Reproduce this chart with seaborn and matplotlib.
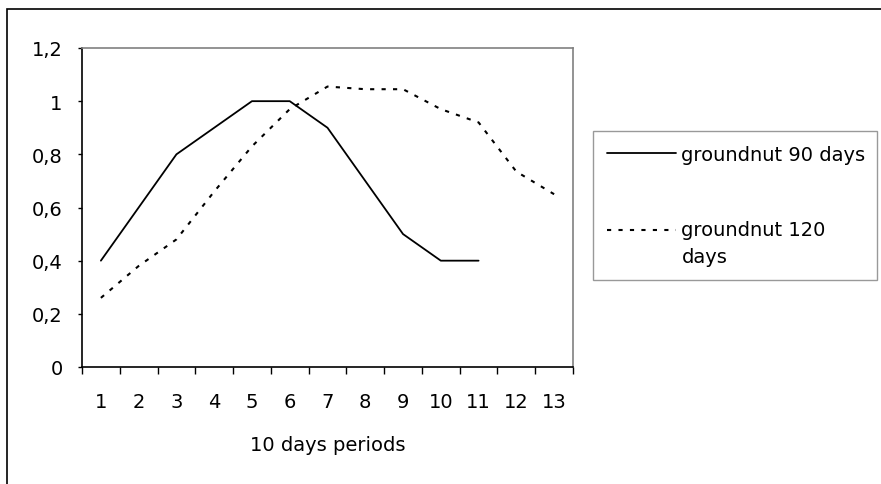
import numpy as np
import pandas as pd
import seaborn as sns
import matplotlib.pyplot as plt
from matplotlib.patches import Rectangle
from matplotlib.ticker import FixedLocator, FixedFormatter

# Values
periods_90 = [1, 2, 3, 4, 5, 6, 7, 8, 9, 10, 11]
values_90 = [0.4, 0.6, 0.8, 0.9, 1.0, 1.0, 0.9, 0.7, 0.5, 0.4, 0.4]
periods_120 = [1, 2, 3, 4, 5, 6, 7, 8, 9, 10, 11, 12, 13]
values_120 = [0.26, 0.38, 0.48, 0.66, 0.83, 0.97, 1.055, 1.045, 1.045, 0.97, 0.92, 0.735, 0.65]
y_ticks = [0, 0.2, 0.4, 0.6, 0.8, 1.0, 1.2]
y_tick_labels = ["0", "0,2", "0,4", "0,6", "0,8", "1", "1,2"]
x_tick_labels = [str(i) for i in range(1, 14)]

df_90 = pd.DataFrame({"period": periods_90, "value": values_90})
df_120 = pd.DataFrame({"period": periods_120, "value": values_120})

sns.set_style("white")
plt.rcParams["font.family"] = ["DejaVu Sans"]
plt.rcParams["font.size"] = 14
plt.rcParams["text.color"] = "black"
plt.rcParams["axes.labelcolor"] = "black"
plt.rcParams["xtick.color"] = "black"
plt.rcParams["ytick.color"] = "black"

fig = plt.figure(figsize=(8.81, 4.85), dpi=100)
ax = fig.add_axes([82 / 881, 1 - 368 / 485, (573 - 82) / 881, (368 - 49) / 485])

# Solid line for the 90 days variety
sns.lineplot(data=df_90, x="period", y="value", ax=ax, color="black",
             linewidth=1.3, label="groundnut 90 days")

# Dotted line for the 120 days variety
sns.lineplot(data=df_120, x="period", y="value", ax=ax, color="black",
             linewidth=1.5, label="groundnut 120\ndays")
ax.lines[1].set_linestyle((0, (2, 3.5)))

ax.set_xlim(0.5, 13.5)
ax.set_ylim(0, 1.2)

# Category ticks sit between periods, labels in the middle
ax.xaxis.set_major_locator(FixedLocator(np.arange(0.5, 14, 1)))
ax.xaxis.set_major_formatter(FixedFormatter([""] * 14))
ax.xaxis.set_minor_locator(FixedLocator(np.arange(1, 14)))
ax.xaxis.set_minor_formatter(FixedFormatter(x_tick_labels))
ax.tick_params(axis="x", which="major", direction="out", length=5, width=1, color="black", bottom=True)
ax.tick_params(axis="x", which="minor", length=0, pad=18, labelsize=14, labelcolor="black")

ax.set_yticks(y_ticks)
ax.set_yticklabels(y_tick_labels)
ax.tick_params(axis="y", direction="out", length=3, width=1, color="black", left=True,
               labelsize=14, pad=11, labelcolor="black")

ax.set_xlabel("10 days periods", fontsize=14, labelpad=17, color="black")
ax.set_ylabel("")

for side in ["left", "bottom"]:
    ax.spines[side].set_color("black")
    ax.spines[side].set_linewidth(1.2)
for side in ["top", "right"]:
    ax.spines[side].set_color("#808080")
    ax.spines[side].set_linewidth(1.2)
    ax.spines[side].set_visible(True)

# Legend box to the right of the plot area
leg = ax.legend(
    loc="upper left",
    bbox_to_anchor=(593 / 881, 1 - 137 / 485, (877 - 593) / 881, 0.01),
    bbox_transform=fig.transFigure,
    mode="expand",
    frameon=True,
    fancybox=False,
    edgecolor="#808080",
    fontsize=14,
    handlelength=3.55,
    handletextpad=0.3,
    labelspacing=2.9,
    borderpad=0.7,
    borderaxespad=0,
)
leg.get_frame().set_linewidth(1.0)
for txt in leg.get_texts():
    txt.set_linespacing(1.55)
    txt.set_color("black")

# Second legend handle lines up with the first line of its label
h = leg.legend_handles[1]
h.set_ydata(np.asarray(h.get_ydata()) + 10)

# Outer border round the whole chart
fig.patches.append(Rectangle((7 / 881, -0.1), 1.2, 1 - 10 / 485 + 0.1,
                             transform=fig.transFigure, fill=False,
                             edgecolor="black", linewidth=1.2))

fig.savefig("out.png", dpi=100)
